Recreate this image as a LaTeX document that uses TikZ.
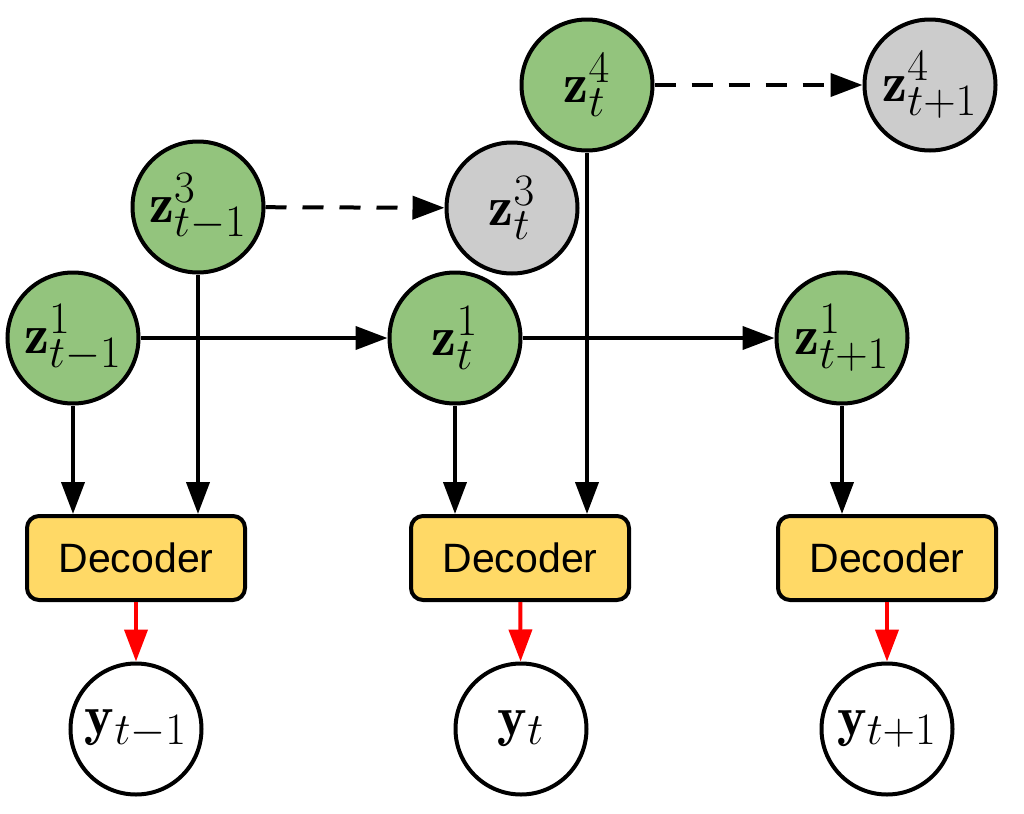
\RequirePackage{fix-cm}
\documentclass[tikz,border=0pt]{standalone}
\usepackage{fontspec}
\newfontfamily\decfont{Liberation Sans}
\usetikzlibrary{arrows.meta}
\DeclareMathSizes{28}{28}{22.5}{17}
\definecolor{zgreen}{HTML}{93C47D}
\definecolor{zgrey}{HTML}{CCCCCC}
\definecolor{decyellow}{HTML}{FFD966}
\begin{document}
\begin{tikzpicture}[x=0.5pt,y=-0.5pt,
  lat/.style={circle, draw, line width=2pt, minimum size=65.5pt, inner sep=0pt, font=\fontsize{28}{30}\selectfont},
  zg/.style={lat, fill=zgreen},
  zgr/.style={lat, fill=zgrey},
  obs/.style={lat, fill=white},
  dec/.style={draw, line width=2pt, rounded corners=6pt, fill=decyellow, minimum width=109pt, minimum height=42pt, inner sep=0pt, font=\decfont\fontsize{20.5}{24}\selectfont},
  arr/.style={line width=2pt, -{Triangle[length=16pt,width=11.5pt]}},
  darr/.style={arr, dash pattern=on 10.5pt off 8pt},
  rarr/.style={arr, red}
]
\useasboundingbox (0,0) rectangle (1024,814);
% latent nodes
\node[zg]  (z1a) at (73,338)  {$\mathbf{z}^1_{t-1}$};
\node[zg]  (z3a) at (198,207) {$\mathbf{z}^3_{t-1}$};
\node[zgr] (z3b) at (512,208) {$\mathbf{z}^3_{t}$};
\node[zg]  (z1b) at (455,338) {$\mathbf{z}^1_{t}$};
\node[zg]  (z4b) at (587,85)  {$\mathbf{z}^4_{t}$};
\node[zgr] (z4c) at (930,85)  {$\mathbf{z}^4_{t+1}$};
\node[zg]  (z1c) at (842,338) {$\mathbf{z}^1_{t+1}$};
% decoders
\node[dec] (d1) at (136,558) {Decoder};
\node[dec] (d2) at (520,558) {Decoder};
\node[dec] (d3) at (887,558) {Decoder};
% observations
\node[obs] (y1) at (136,729) {$\mathbf{y}_{t-1}$};
\node[obs] (y2) at (521,729) {$\mathbf{y}_{t}$};
\node[obs] (y3) at (887,729) {$\mathbf{y}_{t+1}$};
% vertical arrows
\draw[arr] (z1a) -- (z1a |- d1.north);
\draw[arr] (z3a) -- (z3a |- d1.north);
\draw[arr] (z1b) -- (z1b |- d2.north);
\draw[arr] (z4b) -- (z4b |- d2.north);
\draw[arr] (z1c) -- (z1c |- d3.north);
% horizontal arrows
\draw[arr] (z1a) -- (z1b);
\draw[arr] (z1b) -- (z1c);
\draw[darr] (z3a) -- (z3b);
\draw[darr] (z4b) -- (z4c);
% red arrows
\draw[rarr] (d1) -- (y1);
\draw[rarr] (d2) -- (y2);
\draw[rarr] (d3) -- (y3);
\end{tikzpicture}
\end{document}
